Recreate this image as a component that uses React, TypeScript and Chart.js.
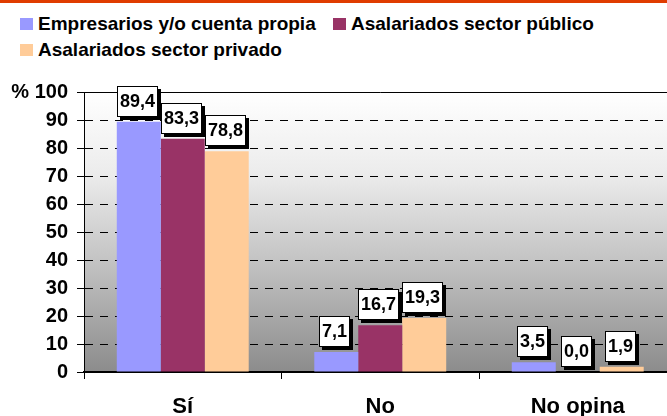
import React, { useEffect, useRef } from "react";
import { Chart, registerables } from "chart.js";

Chart.register(...registerables);

const categories = ["Sí", "No", "No opina"];
const empresarios = [89.4, 7.1, 3.5];
const publico = [83.3, 16.7, 0.0];
const privado = [78.8, 19.3, 1.9];
const seriesNames = [
  "Empresarios y/o cuenta propia",
  "Asalariados sector público",
  "Asalariados sector privado",
];
const seriesColors = ["#9999FF", "#993366", "#FFCC99"];
const yTicks = [0, 10, 20, 30, 40, 50, 60, 70, 80, 90, 100];

const FONT = "'Liberation Sans', Arial, Helvetica, sans-serif";

const bgPlugin = {
  id: "bgGradient",
  beforeDraw(chart: any) {
    const { ctx, chartArea } = chart;
    if (!chartArea) return;
    const g = ctx.createLinearGradient(0, chartArea.top, 0, chartArea.bottom);
    g.addColorStop(0, "#ffffff");
    g.addColorStop(0.3, "#ebebeb");
    g.addColorStop(0.65, "#bdbdbd");
    g.addColorStop(1, "#8c8c8c");
    ctx.save();
    ctx.fillStyle = g;
    ctx.fillRect(chartArea.left, chartArea.top, chartArea.right - chartArea.left, chartArea.bottom - chartArea.top);
    ctx.restore();
  },
  beforeDatasetsDraw(chart: any) {
    const { ctx, chartArea } = chart;
    const y = Math.round(chart.scales.y.getPixelForValue(100)) + 0.5;
    ctx.save();
    ctx.strokeStyle = "#000";
    ctx.lineWidth = 1;
    ctx.setLineDash([]);
    ctx.beginPath();
    ctx.moveTo(chartArea.left, y);
    ctx.lineTo(chartArea.right, y);
    ctx.stroke();
    ctx.restore();
  },
};

const labelPlugin = {
  id: "boxLabels",
  afterDatasetsDraw(chart: any) {
    const ctx = chart.ctx;
    ctx.save();
    ctx.font = `bold 18px ${FONT}`;
    chart.data.datasets.forEach((ds: any, di: number) => {
      const meta = chart.getDatasetMeta(di);
      meta.data.forEach((el: any, i: number) => {
        const v = ds.data[i] as number;
        const txt = v.toFixed(1).replace(".", ",");
        const tw = ctx.measureText(txt).width;
        const w = Math.round(tw + 6);
        const h = 31;
        const left = Math.round(el.x - (w + 3) / 2);
        const top = Math.round(el.y - 5 - h);
        ctx.fillStyle = "#000";
        ctx.fillRect(left + 3, top + 3, w, h);
        ctx.fillStyle = "#fff";
        ctx.fillRect(left, top, w, h);
        ctx.strokeStyle = "#000";
        ctx.lineWidth = 1;
        ctx.setLineDash([]);
        ctx.strokeRect(left + 0.5, top + 0.5, w - 1, h - 1);
        ctx.fillStyle = "#000";
        ctx.textAlign = "center";
        ctx.textBaseline = "middle";
        ctx.fillText(txt, left + w / 2, top + h / 2 + 1);
      });
    });
    ctx.restore();
  },
};

export default function App() {
  const ref = useRef<HTMLCanvasElement | null>(null);

  useEffect(() => {
    if (!ref.current) return;
    Chart.defaults.font.family = FONT;
    const chart = new Chart(ref.current, {
      type: "bar",
      data: {
        labels: categories,
        datasets: [empresarios, publico, privado].map((d, i) => ({
          label: seriesNames[i],
          data: d,
          backgroundColor: seriesColors[i],
          borderWidth: 0,
          categoryPercentage: 0.668,
          barPercentage: 1,
        })),
      },
      options: {
        animation: false,
        responsive: false,
        events: [],
        layout: { padding: { top: 92, right: 23.5, left: 0, bottom: 0 } },
        plugins: {
          legend: { display: false },
          tooltip: { enabled: false },
          title: { display: false },
        },
        scales: {
          x: {
            afterFit: (s: any) => {
              s.height = 44;
            },
            grid: {
              display: true,
              drawOnChartArea: false,
              drawTicks: true,
              tickLength: 7,
              tickColor: "#000",
              tickWidth: 1,
              offset: true,
            },
            border: { display: true, color: "#000", width: 2 },
            ticks: {
              color: "#000",
              font: { size: 22, weight: "bold", family: FONT },
              padding: 15,
              maxRotation: 0,
            },
          },
          y: {
            min: 0,
            max: 100,
            afterFit: (s: any) => {
              s.width = 84;
            },
            afterBuildTicks: (s: any) => {
              s.ticks = yTicks.map((v) => ({ value: v }));
            },
            grid: {
              color: (c: any) =>
                c.tick && (c.tick.value === 0 || c.tick.value === 100) ? "rgba(0,0,0,0)" : "#000",
              lineWidth: 1,
              drawTicks: true,
              tickLength: 7,
              tickColor: "#000",
              tickWidth: 1,
              tickBorderDash: [],
            },
            border: { display: true, color: "#000", width: 1, dash: [8, 7] },
            ticks: {
              color: "#000",
              font: { size: 20, weight: "bold", family: FONT },
              padding: 9,
              callback: (v: any) => (v === 100 ? "% 100" : String(v)),
            },
          },
        },
      },
      plugins: [bgPlugin, labelPlugin],
    });
    return () => chart.destroy();
  }, []);

  const legendItem = (i: number, left: number, top: number) => (
    <div
      key={i}
      style={{
        position: "absolute",
        left,
        top,
        display: "flex",
        alignItems: "center",
        whiteSpace: "nowrap",
        fontFamily: FONT,
        fontWeight: "bold",
        fontSize: 19,
        lineHeight: "22px",
        color: "#000",
      }}
    >
      <span
        style={{
          display: "inline-block",
          width: 13,
          height: 12,
          background: seriesColors[i],
          marginRight: 5,
        }}
      />
      <span>{seriesNames[i]}</span>
    </div>
  );

  return (
    <div
      style={{
        position: "fixed",
        left: 0,
        top: 0,
        width: 667,
        height: 416,
        overflow: "hidden",
        background: "#fff",
      }}
    >
      <div
        style={{
          position: "absolute",
          left: 0,
          top: 0,
          width: 667,
          height: 3,
          background: "#E03C00",
        }}
      />
      {legendItem(0, 20, 13)}
      {legendItem(1, 333, 13)}
      {legendItem(2, 20, 39)}
      <canvas
        ref={ref}
        width={700}
        height={416}
        style={{ position: "absolute", left: 0, top: 0, width: 700, height: 416 }}
      />
    </div>
  );
}
